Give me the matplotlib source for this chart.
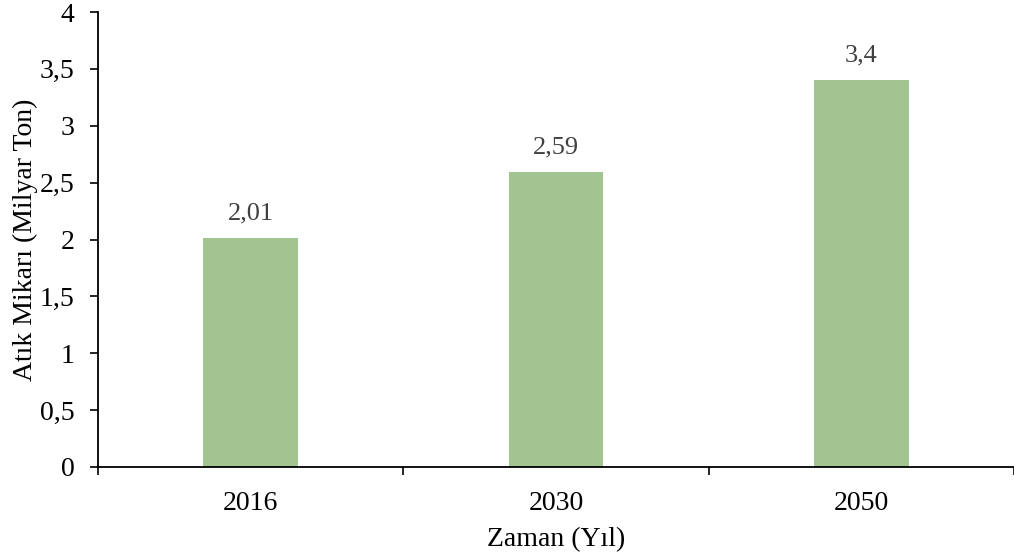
import numpy as np
import matplotlib.pyplot as plt

years = ["2016", "2030", "2050"]
waste = [2.01, 2.59, 3.4]
value_labels = ["2,01", "2,59", "3,4"]
yticks = [0, 0.5, 1, 1.5, 2, 2.5, 3, 3.5, 4]
ytick_labels = ["0", "0,5", "1", "1,5", "2", "2,5", "3", "3,5", "4"]

plt.rcParams['font.family'] = ['Liberation Serif', 'DejaVu Serif']

fig = plt.figure(figsize=(10.14, 5.55), dpi=100)
ax = fig.add_axes([98/1014, 88/555, 916/1014, 455/555])

x = np.arange(len(years))
bars = ax.bar(x, waste, width=0.31, color='#A2C490')

for xi, v, lab in zip(x, waste, value_labels):
    ax.annotate(lab, (xi, v), xytext=(0, 10), textcoords='offset points',
                ha='center', va='bottom', fontsize=19, color='#404040')

ax.set_xlim(-0.5, 2.5)
ax.set_ylim(0, 4)
ax.set_yticks(yticks)
ax.set_yticklabels(ytick_labels, fontsize=20)
ax.set_xticks(x)
ax.set_xticklabels(years, fontsize=20)
ax.set_xticks([-0.5, 0.5, 1.5, 2.5], minor=True)
ax.tick_params(axis='x', which='major', length=0, pad=17)
ax.tick_params(axis='x', which='minor', length=6, width=1.2, direction='out')
ax.tick_params(axis='y', length=6, width=1.2, direction='out', pad=11)

for s in ['top', 'right']:
    ax.spines[s].set_visible(False)
for s in ['left', 'bottom']:
    ax.spines[s].set_linewidth(1.3)

ax.set_xlabel("Zaman (Yıl)", fontsize=20, labelpad=8)
ax.set_ylabel("Atık Mikarı (Milyar Ton)", fontsize=20, labelpad=1)

fig.savefig("out.png", dpi=100)
